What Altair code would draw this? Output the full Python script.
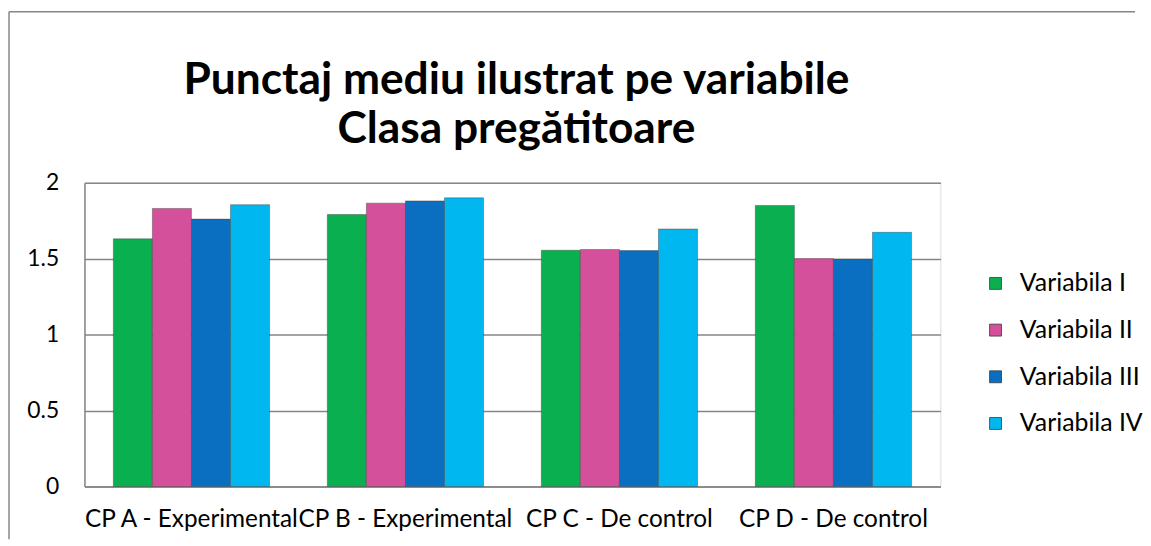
import altair as alt
import pandas as pd

groups = ["CP A - Experimental", "CP B - Experimental", "CP C - De control", "CP D - De control"]
series = ["Variabila I", "Variabila II", "Variabila III", "Variabila IV"]
values = {
    "Variabila I":   [1.63, 1.79, 1.555, 1.85],
    "Variabila II":  [1.83, 1.865, 1.56, 1.50],
    "Variabila III": [1.76, 1.88, 1.553, 1.497],
    "Variabila IV":  [1.855, 1.90, 1.695, 1.673],
}
colors = ["#0AB050", "#D5509A", "#0A6FC0", "#00B7F0"]
y_ticks = [0, 0.5, 1, 1.5, 2]
title_lines = ["Punctaj mediu ilustrat pe variabile", "Clasa pregătitoare"]

rows = []
for s in series:
    for g, v in zip(groups, values[s]):
        rows.append({"grupa": g, "variabila": s, "punctaj": v})
df = pd.DataFrame(rows)

FONT = "Lato"

bars = alt.Chart(df).mark_bar(stroke="#3a3a3a", strokeWidth=0.8, strokeOpacity=0.5).encode(
    x=alt.X("grupa:N", sort=groups, title=None,
            scale=alt.Scale(paddingInner=0.27, paddingOuter=0.135),
            axis=alt.Axis(labelAngle=0, labelFontSize=24.5, labelFont=FONT, labelColor="#000000",
                          labelPadding=21, ticks=False, domainColor="#868686", domainWidth=1.5,
                          labelLimit=300)),
    xOffset=alt.XOffset("variabila:N", sort=series),
    y=alt.Y("punctaj:Q", title=None,
            scale=alt.Scale(domain=[0, 2]),
            axis=alt.Axis(values=y_ticks, format="~g", labelFontSize=23, labelFont=FONT,
                          labelColor="#000000", labelPadding=26, ticks=False,
                          grid=True, gridColor="#868686", gridWidth=1.5,
                          domainColor="#868686", domainWidth=1.5)),
    color=alt.Color("variabila:N", sort=series,
                    scale=alt.Scale(domain=series, range=colors),
                    legend=alt.Legend(title=None, symbolType="square", symbolSize=144,
                                      symbolStrokeWidth=0.8, symbolStrokeColor="#3a3a3a",
                                      labelFontSize=25, labelFont=FONT, labelColor="#000000",
                                      labelOffset=12, rowPadding=21, orient="none",
                                      legendX=905, legendY=89, padding=0)),
)

border_src = alt.Chart(pd.DataFrame({"a": [0]}))
border_top = border_src.mark_rule(color="#868686", strokeWidth=1.5).encode(
    x=alt.value(-76), x2=alt.value(1058), y=alt.value(-172)
)
border_left = border_src.mark_rule(color="#868686", strokeWidth=1.5).encode(
    x=alt.value(-76), y=alt.value(-172), y2=alt.value(359)
)

title1 = alt.Chart(pd.DataFrame({"t": [title_lines[0]]})).mark_text(
    font=FONT, fontSize=44.6, fontWeight="bold", color="#000000", align="center", baseline="alphabetic"
).encode(text="t:N", x=alt.value(435), y=alt.value(-89))

title2 = alt.Chart(pd.DataFrame({"t": [title_lines[1]]})).mark_text(
    font=FONT, fontSize=44.6, fontWeight="bold", color="#000000", align="center", baseline="alphabetic"
).encode(text="t:N", x=alt.value(435), y=alt.value(-40))

chart = alt.layer(border_top, border_left, title1, title2, bars).properties(
    width=862, height=306,
    padding={"left": 0, "top": 1, "right": 0, "bottom": 0},
).configure_view(stroke=None).configure(background="#ffffff")

chart.save("out.html", embed_options={"renderer": "svg", "actions": False})
